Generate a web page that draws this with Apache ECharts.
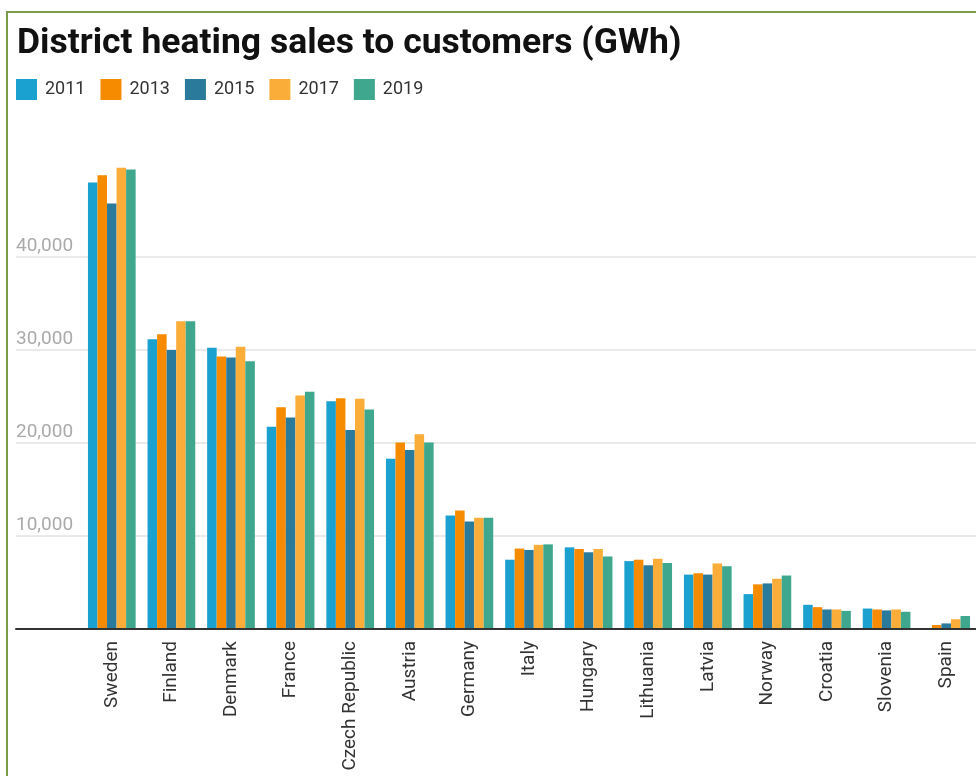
<!DOCTYPE html>
<html>
<head>
<meta charset="utf-8">
<script src="https://cdn.jsdelivr.net/npm/echarts@6/dist/echarts.min.js"></script>
<style>
  html, body { margin: 0; padding: 0; background: #fff; overflow: hidden; }
  #chart { width: 976px; height: 776px; }
</style>
</head>
<body>
<div id="chart"></div>
<script>
const categories = ['Sweden','Finland','Denmark','France','Czech Republic','Austria','Germany','Italy','Hungary','Lithuania','Latvia','Norway','Croatia','Slovenia','Spain'];
const years = ['2011','2013','2015','2017','2019'];
const y2011 = [48000, 31150, 30250, 21750, 24500, 18300, 12200, 7450, 8780, 7300, 5850, 3750, 2600, 2200, null];
const y2013 = [48800, 31700, 29300, 23850, 24800, 20050, 12750, 8650, 8600, 7450, 6000, 4800, 2350, 2100, 430];
const y2015 = [45750, 30000, 29200, 22750, 21400, 19250, 11550, 8500, 8250, 6850, 5850, 4900, 2100, 2000, 600];
const y2017 = [49600, 33100, 30350, 25100, 24750, 20950, 11950, 9050, 8600, 7550, 7050, 5400, 2100, 2100, 1050];
const y2019 = [49400, 33100, 28800, 25500, 23600, 20050, 11950, 9100, 7800, 7100, 6750, 5750, 1950, 1850, 1400];
const yTickInterval = 10000;
const yMax = 50000;

const seriesValues = [y2011, y2013, y2015, y2017, y2019];
const colors = ['#1aa1cf', '#f78b00', '#2a7a9c', '#fbad3a', '#3fa78d'];
const font = 'Roboto, "Noto Sans", sans-serif';

const chart = echarts.init(document.getElementById('chart'));
chart.setOption({
  animation: false,
  backgroundColor: '#fff',
  color: colors,
  title: {
    text: 'District heating sales to customers (GWh)',
    left: 17, top: 26, padding: 0,
    textStyle: { fontFamily: font, fontSize: 35.5, fontWeight: 'bold', color: '#111' }
  },
  legend: {
    left: 16, top: 79, padding: 0,
    icon: 'rect', itemWidth: 21, itemHeight: 21, itemGap: 15,
    textStyle: { fontFamily: font, fontSize: 18, color: '#333', padding: [0, 0, 0, 3] },
    data: years
  },
  graphic: [{
    type: 'polyline',
    shape: { points: [[7, 776], [7, 12], [976, 12]] },
    style: { stroke: '#7c9c49', lineWidth: 2, fill: null },
    z: 100
  }],
  grid: [
    { left: 16, right: -6, top: 164, bottom: 147 },
    { left: 82, right: -6, top: 164, bottom: 147 }
  ],
  xAxis: [
    {
      gridIndex: 0, type: 'value', min: 0, max: 1,
      axisLine: { show: true, lineStyle: { color: '#333', width: 2 } },
      axisTick: { show: false }, axisLabel: { show: false }, splitLine: { show: false },
      z: 10
    },
    {
      gridIndex: 1, type: 'category', data: categories,
      axisLine: { show: false }, axisTick: { show: false },
      axisLabel: { rotate: 90, margin: 12, fontFamily: font, fontSize: 19, color: '#333', interval: 0 }
    }
  ],
  yAxis: [
    {
      gridIndex: 0, type: 'value', min: 0, max: yMax, interval: yTickInterval,
      axisLine: { show: false }, axisTick: { show: false },
      axisLabel: {
        inside: true, margin: 0, align: 'left', verticalAlign: 'bottom',
        padding: [0, 0, 1, 0], showMinLabel: false, showMaxLabel: false,
        fontFamily: font, fontSize: 19, color: '#aaaaaa',
        formatter: v => v.toLocaleString('en-US')
      },
      splitLine: { show: true, showMinLine: false, showMaxLine: false, lineStyle: { color: '#e3e3e3', width: 1.5 } }
    },
    {
      gridIndex: 1, type: 'value', min: 0, max: yMax, interval: yTickInterval,
      show: false, splitLine: { show: false }
    }
  ],
  series: years.map((y, i) => ({
    name: y, type: 'bar', xAxisIndex: 1, yAxisIndex: 1,
    data: seriesValues[i],
    barGap: '0%', barCategoryGap: '20%'
  }))
});
</script>
</body>
</html>
